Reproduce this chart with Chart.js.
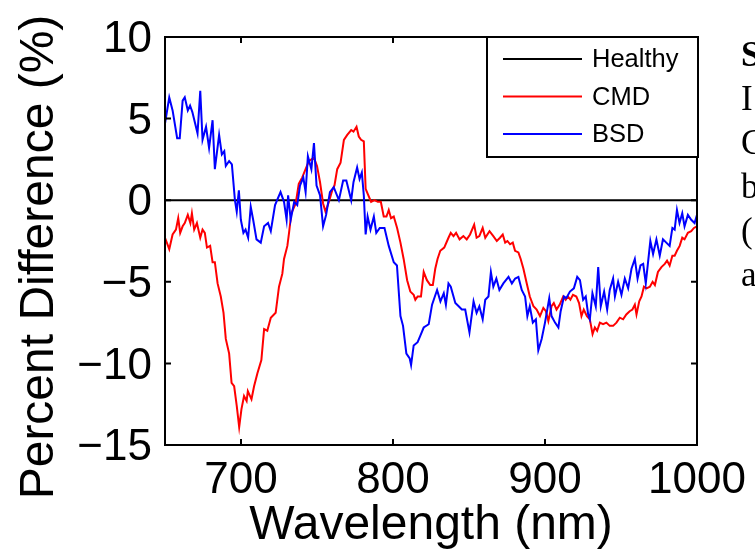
<!DOCTYPE html>
<html>
<head>
<meta charset="utf-8">
<title>Percent Difference</title>
<script src="https://cdn.jsdelivr.net/npm/chart.js@4.4.1/dist/chart.umd.min.js"></script>
<style>
  html, body { margin: 0; padding: 0; background: #fff; }
  canvas { display: block; }
</style>
</head>
<body>
<canvas id="spectrum" width="755" height="550"></canvas>
<script>
// tick positions
const xTicks = [700, 800, 900, 1000];
const yTicks = [-15, -10, -5, 0, 5, 10];

// Healthy = reference line
const healthyWavelength = [650, 1000];
const healthyValues = [0, 0];

// CMD (red)
const cmdWavelength = [650, 652.8, 655, 657.2, 658.7, 660, 661.6, 663, 665, 666.7, 667.7, 669.2, 671, 673.2, 674.7,
  676.2, 677.6, 679.7, 681.3, 682.8, 684.6, 686.7, 688.5, 690, 692.2, 693.8, 695.5, 697.2, 698.8, 700.3, 702,
  703.7, 704.5, 706.9, 708.6, 710.8, 713.4, 715.2, 717.3, 719.6, 722.8, 725, 727.2, 728.3, 730.5, 731.6, 733.1,
  736, 738, 740.3, 742.5, 744.7, 748, 750, 752, 754, 755.6, 757.8, 760, 761.5, 763.3, 765.5, 767.7, 769.9,
  772.5, 774, 776, 777.5, 779, 780.8, 782, 783.3, 785.6, 787.8, 790, 792, 793.9, 795.7, 797.2, 798.7, 800.5,
  802.7, 804.9, 807, 809.3, 811.4, 813.6, 814.7, 816.2, 818.4, 820.2, 822.3, 824.5, 826.2, 827.8, 829.3, 831.1,
  833.7, 836.5, 838, 839.8, 841.5, 843.8, 846.3, 848.5, 850.7, 853.4, 855, 856.8, 859, 860.7, 863.5, 866,
  868.3, 870.4, 872.2, 873.8, 875.3, 877, 878.8, 880.3, 882.5, 884, 885.8, 888, 890, 892.4, 894.5, 896.7,
  898.9, 900.6, 902.2, 904.3, 905.8, 907.6, 909.7, 912, 913.6, 915.1, 916.7, 918.4, 920.6, 922.4, 924, 925.5,
  927.6, 929.5, 931.3, 932.8, 934.3, 936.1, 938.2, 940.4, 942.6, 944.8, 947, 949.2, 951.4, 953.5, 955.7,
  957.5, 959.1, 960.2, 962, 963.5, 965.1, 966.8, 969, 970.8, 972.3, 974.3, 976.6, 978.8, 980.3, 982, 983.8,
  985.3, 986.8, 988.6, 990.3, 991.8, 994, 996.2, 998, 1000];
const cmdValues = [-2.3, -3.0, -2.1, -1.8, -1.1, -2.0, -1.6, -1.4, -0.9, -1.4, -0.8, -1.8, -1.4, -2.3, -1.8,
  -2.0, -2.9, -2.8, -3.8, -3.8, -5.1, -5.9, -6.9, -8.5, -9.4, -11.2, -11.4, -12.6, -13.9, -12.8, -12.0,
  -12.3, -11.7, -12.2, -11.4, -10.6, -9.8, -7.9, -8.0, -7.2, -6.9, -5.3, -4.5, -3.6, -2.8, -2.0, -0.8,
  -0.2, 1.0, 1.4, 1.9, 2.4, 2.6, 2.1, 1.1, -0.2, -0.7, -0.1, 0.6, 0.9, 1.9, 2.3, 3.7, 4.0,
  4.3, 4.2, 4.5, 3.9, 3.7, 3.6, 0.7, 0.4, -0.1, 0.0, -0.1, -0.1, -1.0, -1.0, -0.6, -1.1, -1.0,
  -1.7, -2.6, -3.6, -4.9, -5.6, -5.8, -6.1, -5.9, -5.9, -4.4, -4.9, -5.2, -5.2, -4.2, -3.6, -3.1,
  -2.9, -2.3, -2.0, -2.2, -2.0, -2.4, -2.2, -2.4, -2.1, -1.5, -2.3, -2.2, -1.7, -2.3, -1.9, -2.2,
  -2.5, -2.3, -2.1, -2.6, -2.5, -2.7, -2.6, -3.1, -3.2, -3.6, -4.2, -5.1, -5.9, -6.5, -6.7, -7.1,
  -6.6, -6.8, -7.4, -6.5, -6.3, -6.7, -6.4, -5.9, -6.1, -5.9, -6.1, -5.8, -5.9, -6.3, -7.1, -6.7,
  -7.1, -7.3, -8.2, -7.8, -8.0, -7.5, -7.6, -7.5, -7.7, -7.7, -7.5, -7.2, -7.3, -7.0, -6.8,
  -6.7, -6.4, -7.0, -6.2, -5.9, -5.3, -5.4, -5.3, -5.0, -5.2, -4.4, -4.1, -3.9, -3.7, -4.0, -3.4,
  -3.4, -3.1, -2.8, -2.3, -2.4, -2.0, -1.9, -1.7, -1.6];

// BSD (blue)
const bsdWavelength = [650, 652.8, 655, 658, 659.7, 661.6, 663, 665, 666.5, 668, 671.4, 673.2, 674.7, 677, 679,
  681.3, 682.8, 685.6, 687.4, 689, 690, 692.2, 694, 696, 697.2, 698.6, 699.9, 701.6, 703, 704.7, 706.4,
  708, 710.2, 713, 715.2, 717.8, 719.6, 722.4, 726, 728.3, 730, 731, 732.7, 735, 737, 738.8, 741, 742.5,
  744, 746.3, 748, 749.7, 752, 754, 756, 758.5, 761, 764.4, 767.2, 769.3, 772.5, 774, 776.4, 778, 779.5,
  780.8, 782, 783.3, 785.2, 787.4, 789, 791.3, 794.4, 797.2, 800.5, 802.6, 804.9, 806.6, 808.8, 811,
  811.9, 813.6, 816.2, 818, 820.2, 823.5, 825.7, 829, 831.2, 833.4, 834.8, 836.5, 838, 841, 843.2, 845.3,
  847.5, 850.3, 853, 855, 856.8, 859, 860.7, 862.8, 864.4, 866, 868, 870, 872.6, 876, 878.2, 880.4, 882.5,
  884.7, 886.9, 888.4, 890, 892, 894, 895.6, 897.8, 900, 902.8, 904.3, 906.6, 908.8, 910.3, 912.5, 914,
  916.4, 919, 921.2, 923, 925.1, 926.8, 928.4, 929.5, 931.2, 933.4, 935, 936.7, 938.9, 940.9, 942.6,
  944.8, 946, 948.1, 950.3, 952.5, 954.7, 956.9, 959.1, 960.9, 962.8, 964.6, 966.3, 967.8, 969.3, 971.1,
  973.3, 975.5, 977.6, 979.8, 982, 983.8, 985.3, 986.8, 988.5, 990.3, 991.8, 994, 996.2, 998.4, 1000];
const bsdValues = [4.7, 6.3, 5.5, 3.8, 3.8, 6.1, 6.3, 5.5, 5.8, 5.4, 4.1, 6.7, 3.7, 4.5, 3.2,
  4.9, 1.9, 4.0, 2.8, 3.0, 2.1, 2.4, 2.2, 0.0, -0.7, 0.6, -1.2, -2.0, -1.8, -2.3, -0.4,
  -1.2, -2.4, -2.6, -1.6, -1.4, -1.9, -0.3, 0.5, -0.1, -1.2, 0.3, -1.2, -0.1, -0.3, 0.9, 1.4, 0.5,
  2.7, 1.9, 3.5, 0.9, 0.3, -1.6, -0.9, 0.5, 0.8, 0.0, 1.2, 1.2, 0.0, 1.1, 2.0, 1.3, 1.7,
  0.3, -2.1, -1.0, -1.8, -1.0, -2.0, -1.7, -1.7, -2.8, -3.8, -4.0, -7.1, -7.7, -9.4, -9.7,
  -10.1, -8.9, -8.7, -8.3, -7.8, -7.6, -6.4, -5.5, -6.2, -5.7, -6.4, -5.1, -5.3, -6.3, -6.5, -6.7,
  -6.7, -8.1, -6.2, -6.9, -6.5, -7.3, -6.1, -5.9, -4.4, -5.3, -4.8, -5.5, -5.1, -4.7, -5.1, -4.8, -4.7,
  -5.5, -5.9, -7.1, -6.5, -7.5, -7.3, -9.2, -8.5, -7.5, -6.0, -7.1, -7.5, -7.8, -6.8, -5.9, -6.0,
  -5.6, -5.4, -4.7, -4.9, -6.1, -5.9, -7.0, -7.3, -5.7, -6.5, -4.1, -6.5, -5.6, -6.7, -5.5,
  -4.8, -5.9, -5.0, -5.8, -4.8, -5.4, -4.2, -3.6, -4.8, -4.0, -3.9, -5.1, -3.8, -2.5, -3.3,
  -2.4, -3.4, -2.4, -2.6, -2.8, -1.7, -1.8, -0.6, -1.4, -0.8, -1.6, -0.9, -1.2, -1.4, -0.9];

// caption fragments cut off at the right edge of the figure
const captionLetters = ['S', 'I', 'C', 'b', '(', 'a'];

const FONT = "'Liberation Sans', Arial, Helvetica, sans-serif";
const toPoints = (xs, ys) => xs.map((x, i) => ({ x, y: ys[i] }));
const minus = (v) => (v < 0 ? '\u2212' + Math.abs(v) : String(v));

// box, inward ticks, y label, legend and caption
const decorPlugin = {
  id: 'decor',
  afterDatasetsDraw(chart) {
    const { ctx, chartArea: a, scales: { x, y } } = chart;
    ctx.save();
    ctx.strokeStyle = '#000';
    ctx.lineWidth = 2;
    ctx.beginPath();
    xTicks.forEach(v => {
      const px = x.getPixelForValue(v);
      ctx.moveTo(px, a.bottom); ctx.lineTo(px, a.bottom - 6);
      ctx.moveTo(px, a.top); ctx.lineTo(px, a.top + 6);
    });
    yTicks.forEach(v => {
      const py = y.getPixelForValue(v);
      ctx.moveTo(a.left, py); ctx.lineTo(a.left + 6, py);
      ctx.moveTo(a.right, py); ctx.lineTo(a.right - 6, py);
    });
    ctx.stroke();
    ctx.strokeRect(a.left, a.top, a.right - a.left, a.bottom - a.top);

    // y label, a bit below the middle of the axis like in the original
    ctx.save();
    ctx.translate(40, 257);
    ctx.rotate(-Math.PI / 2);
    ctx.fillStyle = '#000';
    ctx.font = '48px ' + FONT;
    ctx.textAlign = 'center';
    ctx.textBaseline = 'middle';
    ctx.fillText('Percent Difference (%)', 0, 0);
    ctx.restore();

    // legend box in the top right corner
    const lw = 211, lh = 120;
    const lx = a.right - lw + 1, ly = a.top;
    ctx.fillStyle = '#fff';
    ctx.fillRect(lx, ly, lw, lh);
    ctx.strokeRect(lx, ly, lw, lh);
    ctx.font = '25.5px ' + FONT;
    ctx.textBaseline = 'middle';
    ctx.textAlign = 'left';
    chart.data.datasets.forEach((ds, i) => {
      const yy = ly + 22 + i * 37.5;
      ctx.strokeStyle = ds.borderColor;
      ctx.lineWidth = 2;
      ctx.beginPath();
      ctx.moveTo(lx + 16, yy);
      ctx.lineTo(lx + 95, yy);
      ctx.stroke();
      ctx.fillStyle = '#000';
      ctx.fillText(ds.label, lx + 105, yy + 1);
    });

    // text of the page beside the figure
    ctx.fillStyle = '#000';
    ctx.textBaseline = 'alphabetic';
    captionLetters.forEach((ch, i) => {
      ctx.font = (i === 0 ? 'bold ' : '') + "35px 'Liberation Serif', 'Times New Roman', serif";
      ctx.fillText(ch, 741, 66 + i * 44);
    });
    ctx.restore();
  }
};

const ctx = document.getElementById('spectrum');
new Chart(ctx, {
  type: 'line',
  data: {
    datasets: [
      { label: 'Healthy', data: toPoints(healthyWavelength, healthyValues), borderColor: '#000000', order: 2 },
      { label: 'CMD', data: toPoints(cmdWavelength, cmdValues), borderColor: '#ff0000', order: 1 },
      { label: 'BSD', data: toPoints(bsdWavelength, bsdValues), borderColor: '#0000ff', order: 0 },
    ],
  },
  options: {
    responsive: false,
    animation: false,
    layout: { padding: { top: 37, right: 58, left: 0, bottom: 0 } },
    elements: {
      point: { radius: 0 },
      line: { borderWidth: 2, tension: 0, fill: false },
    },
    plugins: {
      legend: { display: false },
      tooltip: { enabled: false },
    },
    scales: {
      x: {
        type: 'linear',
        min: 650,
        max: 1000,
        afterFit: (s) => { s.height = 105; s.paddingLeft = 0; s.paddingRight = 0; },
        afterBuildTicks: (s) => { s.ticks = xTicks.map(v => ({ value: v })); },
        grid: { display: false, drawTicks: false },
        border: { display: false },
        ticks: {
          autoSkip: false,
          maxRotation: 0,
          padding: 9,
          color: '#000',
          font: { family: FONT, size: 44, lineHeight: 1.2 },
          callback: (v) => String(v),
        },
        title: {
          display: true,
          text: 'Wavelength (nm)',
          color: '#000',
          font: { family: FONT, size: 48, lineHeight: 1 },
          padding: { top: 0, bottom: 0 },
        },
      },
      y: {
        type: 'linear',
        min: -15,
        max: 10,
        afterFit: (s) => { s.width = 165; s.paddingTop = 0; s.paddingBottom = 0; },
        afterBuildTicks: (s) => { s.ticks = yTicks.map(v => ({ value: v })); },
        grid: { display: false, drawTicks: false },
        border: { display: false },
        ticks: {
          padding: 13,
          labelOffset: 3,
          color: '#000',
          font: { family: FONT, size: 44 },
          callback: (v) => minus(v),
        },
      },
    },
  },
  plugins: [decorPlugin],
});
</script>
</body>
</html>
